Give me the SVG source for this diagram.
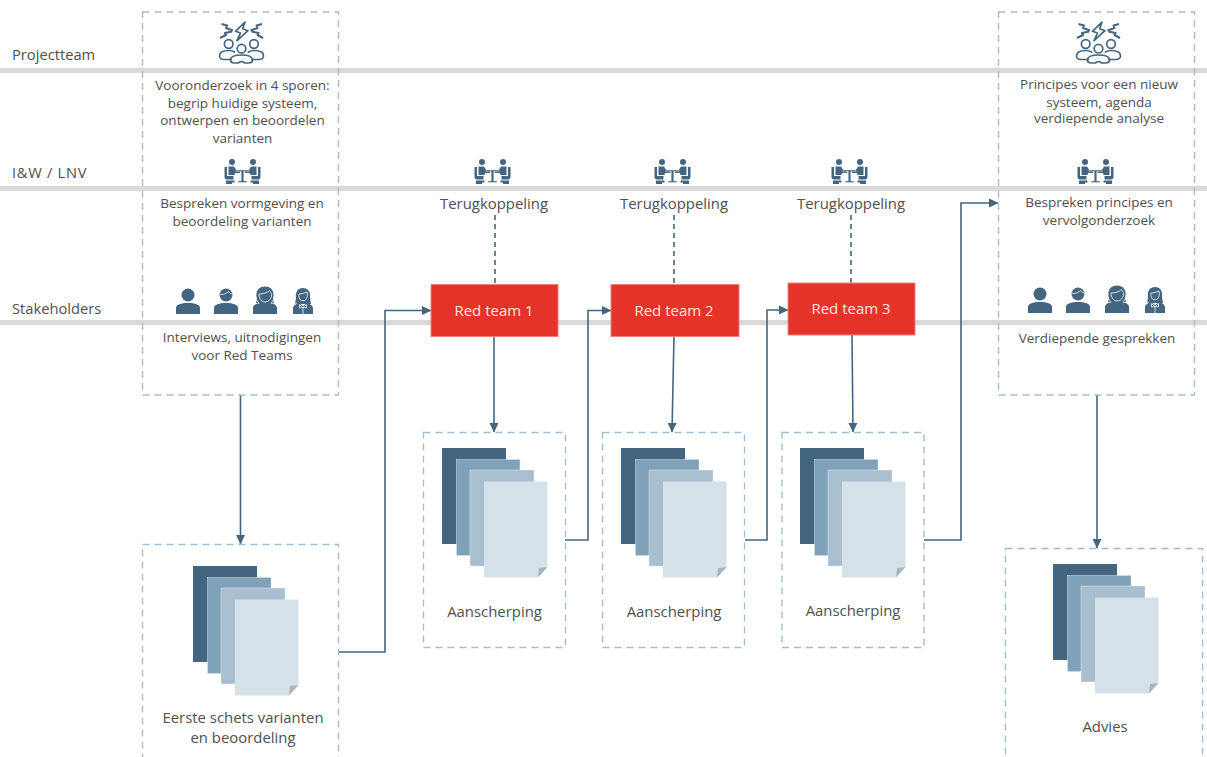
<svg xmlns="http://www.w3.org/2000/svg" width="1207" height="757" viewBox="0 0 1207 757">
<style>
text{font-family:"Open Sans","Noto Sans","Liberation Sans",sans-serif;font-size:13.5px;fill:#505050;text-anchor:middle}
.lane{font-size:14.7px;text-anchor:start}
.big{font-size:14.9px}
.red{font-size:15px;fill:#fbe4e0}
.band{fill:#d9d9d9}
.box{fill:none;stroke:#a3bdd3;stroke-width:1.4;stroke-dasharray:7 5}
.rt{fill:#e5332a;stroke:#f0807a;stroke-width:1}
.c{fill:none;stroke:#44657f;stroke-width:1.6}
.d{fill:none;stroke:#44657f;stroke-width:1.6;stroke-dasharray:5 4}
.i{fill:#44657f}
.w{fill:none;stroke:#fff;stroke-width:.9;opacity:.85}
.o{fill:none;stroke:#44657f;stroke-width:1.7;stroke-linejoin:round;stroke-linecap:round}
.t{fill:none;stroke:#44657f;stroke-width:2;stroke-linejoin:round}
</style>
<defs>
<marker id="a" markerUnits="userSpaceOnUse" markerWidth="10" markerHeight="10" refX="9" refY="5" orient="auto"><path d="M0 .5L9.500 5L0 9.500Z" fill="#44657f"/></marker>
<g id="storm">
<path class="o" d="M33 4L23.500 13.300L28.500 15L25 22.700L36 12.700L30.700 10.700Z"/>
<path class="t" d="M9.500 6L15 7.500L14 10L21 12.500M8 20L14 17L13 15L20 13.500M50 6L44.500 7.500L45.500 10L38.500 12.500M51 20L45.500 17L46.500 15L39.500 13.500"/>
<circle class="o" cx="16.700" cy="26" r="4.300"/><circle class="o" cx="29.500" cy="30.700" r="4.300"/><circle class="o" cx="42" cy="26" r="4.300"/>
<path class="o" d="M19 41.500H12C9 41.500 7.500 39.500 7.500 38C7.500 34 12 32.500 16.700 32.500C19 32.500 21 33 22.500 34M40 41.500H47C50 41.500 51.500 39.500 51.500 38C51.500 34 47 32.500 42 32.500C40 32.500 38 33 36.500 34"/>
<path class="o" d="M18.500 42C18.500 38.500 24 37 29.500 37C35 37 40.500 38.500 40.500 42C40.500 44 38.500 45 36.500 45H33.500C32 45 31 43.500 29.500 43.500C28 43.500 27 45 25.500 45H22.500C20.500 45 18.500 44 18.500 42Z"/>
</g>
<g id="meet" class="i">
<circle cx="9" cy="4" r="3"/><circle cx="30" cy="4" r="3"/>
<path d="M1.500 9H4V18H10.500V21.500H4C2.500 21.500 1.500 20.500 1.500 19ZM37.500 9H35V18H28.500V21.500H35C36.500 21.500 37.500 20.500 37.500 19Z"/>
<path d="M5.500 8.500H11L13.500 12.500H17V15H12L11.500 17H5.500ZM33.500 8.500H28L25.500 12.500H22V15H27L27.500 17H33.500Z"/>
<path d="M13 12H26V13.500H20.800V23H24V24.500H15V23H18.200V13.500H13Z" stroke="#fff" stroke-width=".4"/>
<path d="M3 22.500H11.500V24.500H9V26H3ZM36 22.500H27.500V24.500H30V26H36Z"/>
</g>
<g id="people" class="i">
<circle cx="14" cy="9" r="6.500"/><path d="M2 28V22C2 18.500 7 17 14 17C21 17 26 18.500 26 22V28Z"/>
<circle cx="52" cy="9" r="6.500"/><path d="M40 28V22C40 18.500 45 17 52 17C59 17 64 18.500 64 22V28Z"/>
<path class="w" d="M45.500 8C49 9.500 53 7 54.500 5.500C55.500 7 57 8 58.500 8"/>
<path d="M83 13C81 6 84 .5 91 .5C98 .5 101 6 99 13L100 17H82Z"/>
<path d="M79 28V22C79 18.500 84 16.500 91 16.500C98 16.500 103 18.500 103 22V28Z"/>
<path class="w" d="M85 8C89 8 93 7 95.500 4.500C97 7 98 8 97.500 10C96.500 14 94 16 91 16C88 16 85 13 85 8ZM83 14L85 18M99 14L97 18"/>
<path d="M122 12C121 6 124 2 129 2C134 2 137 6 136 12L137 18H121Z"/>
<path d="M119 28V22.500C119 19.500 122 18 125 17L129 20L133 17C136 18 139 19.500 139 22.500V28Z"/>
<path class="w" d="M125 8C127 8 131 7 133 6C134 9 133 12.500 131.500 14C130 15 128 15 126.500 14C125 12.500 124.500 10 125 8ZM125.500 18.500L129 21.500L132.500 18.500V22L129 21.500L125.500 22ZM129 22V28M119.500 18.500L123 17"/>
</g>
<g id="docs">
<rect x="0" y="0" width="64" height="96" fill="#44657f"/>
<rect x="14.500" y="11.500" width="63.500" height="96" fill="#7fa1ba" stroke="#d6e2ea" stroke-width=".5"/>
<rect x="28" y="22" width="64" height="96" fill="#a9bfd0" stroke="#e3ebf0" stroke-width=".5"/>
<path d="M42 33.500H105.500V119L96 129.500H42Z" fill="#d5e1e9"/>
<path d="M96 129.500L97 120L105.500 119Z" fill="#a9b5bd"/>
</g>
</defs>

<g id="bands">
<rect class="band" x="0" y="68" width="1207" height="5"/>
<rect class="band" x="0" y="186" width="1207" height="5"/>
<rect class="band" x="0" y="320" width="1207" height="5"/>
</g>
<g id="lane-labels">
<text class="lane" x="12" y="60">Projectteam</text>
<text class="lane" x="12" y="178" letter-spacing=".7">I&amp;W / LNV</text>
<text class="lane" x="12" y="314">Stakeholders</text>
</g>

<g id="connectors">
<path class="c" marker-end="url(#a)" d="M240.500 395V544"/>
<path class="c" marker-end="url(#a)" d="M338 652H385V310.500H431"/>
<path class="c" marker-end="url(#a)" d="M494 336V432"/>
<path class="c" marker-end="url(#a)" d="M565 540H588V310.500H611"/>
<path class="c" marker-end="url(#a)" d="M674 336L672 432"/>
<path class="c" marker-end="url(#a)" d="M745 540H767V310H788"/>
<path class="c" marker-end="url(#a)" d="M852 335L853 432"/>
<path class="c" marker-end="url(#a)" d="M924 540H961V203H998"/>
<path class="c" marker-end="url(#a)" d="M1097 395V548"/>
<path class="d" d="M495 215V284"/>
<path class="d" d="M674 215V284"/>
<path class="d" d="M851 215V283"/>
</g>

<g id="node-voor">
<rect class="box" x="142.500" y="12" width="196" height="383"/>
<use href="#storm" x="212" y="18"/>
<text x="242.500" y="90">Vooronderzoek in 4 sporen:</text>
<text x="242.500" y="108">begrip huidige systeem,</text>
<text x="242.500" y="125">ontwerpen en beoordelen</text>
<text x="242.500" y="143">varianten</text>
<use href="#meet" x="223" y="158"/>
<text x="242" y="208">Bespreken vormgeving en</text>
<text x="242" y="226">beoordeling varianten</text>
<use href="#people" x="174" y="286"/>
<text x="242" y="342">Interviews, uitnodigingen</text>
<text x="242" y="360">voor Red Teams</text>
</g>
<g id="node-schets">
<rect class="box" x="142.500" y="544.500" width="196" height="230"/>
<use href="#docs" x="193" y="566"/>
<text class="big" x="243" y="723">Eerste schets varianten</text>
<text class="big" x="243" y="743">en beoordeling</text>
</g>

<g id="node-terug1"><use href="#meet" x="473" y="158"/><text class="big" x="494" y="209">Terugkoppeling</text></g>
<g id="node-terug2"><use href="#meet" x="653" y="158"/><text class="big" x="674" y="209">Terugkoppeling</text></g>
<g id="node-terug3"><use href="#meet" x="830" y="158"/><text class="big" x="851" y="209">Terugkoppeling</text></g>

<g id="node-red1"><rect class="rt" x="431" y="284.500" width="127" height="52"/><text class="red" x="494" y="316">Red team 1</text></g>
<g id="node-red2"><rect class="rt" x="611" y="284.500" width="128" height="52"/><text class="red" x="674" y="316">Red team 2</text></g>
<g id="node-red3"><rect class="rt" x="788" y="283" width="127" height="52"/><text class="red" x="851" y="314">Red team 3</text></g>

<g id="node-aan1"><rect class="box" x="423.500" y="432.500" width="142" height="215"/><use href="#docs" x="442" y="448"/><text class="big" x="494.500" y="617">Aanscherping</text></g>
<g id="node-aan2"><rect class="box" x="602.500" y="432.500" width="142" height="215"/><use href="#docs" x="621" y="448"/><text class="big" x="674" y="617">Aanscherping</text></g>
<g id="node-aan3"><rect class="box" x="782" y="432.500" width="142" height="215"/><use href="#docs" x="800" y="448"/><text class="big" x="853" y="616">Aanscherping</text></g>

<g id="node-principes">
<rect class="box" x="998.500" y="12" width="196" height="383"/>
<use href="#storm" x="1069" y="18"/>
<text x="1099" y="89">Principes voor een nieuw</text>
<text x="1099" y="107">systeem, agenda</text>
<text x="1099" y="123">verdiepende analyse</text>
<use href="#meet" x="1076" y="158"/>
<text x="1099" y="207">Bespreken principes en</text>
<text x="1099" y="225">vervolgonderzoek</text>
<use href="#people" x="1026" y="285"/>
<text x="1097" y="343">Verdiepende gesprekken</text>
</g>
<g id="node-advies">
<rect class="box" x="1005.500" y="548.500" width="197" height="230"/>
<use href="#docs" x="1053" y="564"/>
<text class="big" x="1105" y="732">Advies</text>
</g>
</svg>
